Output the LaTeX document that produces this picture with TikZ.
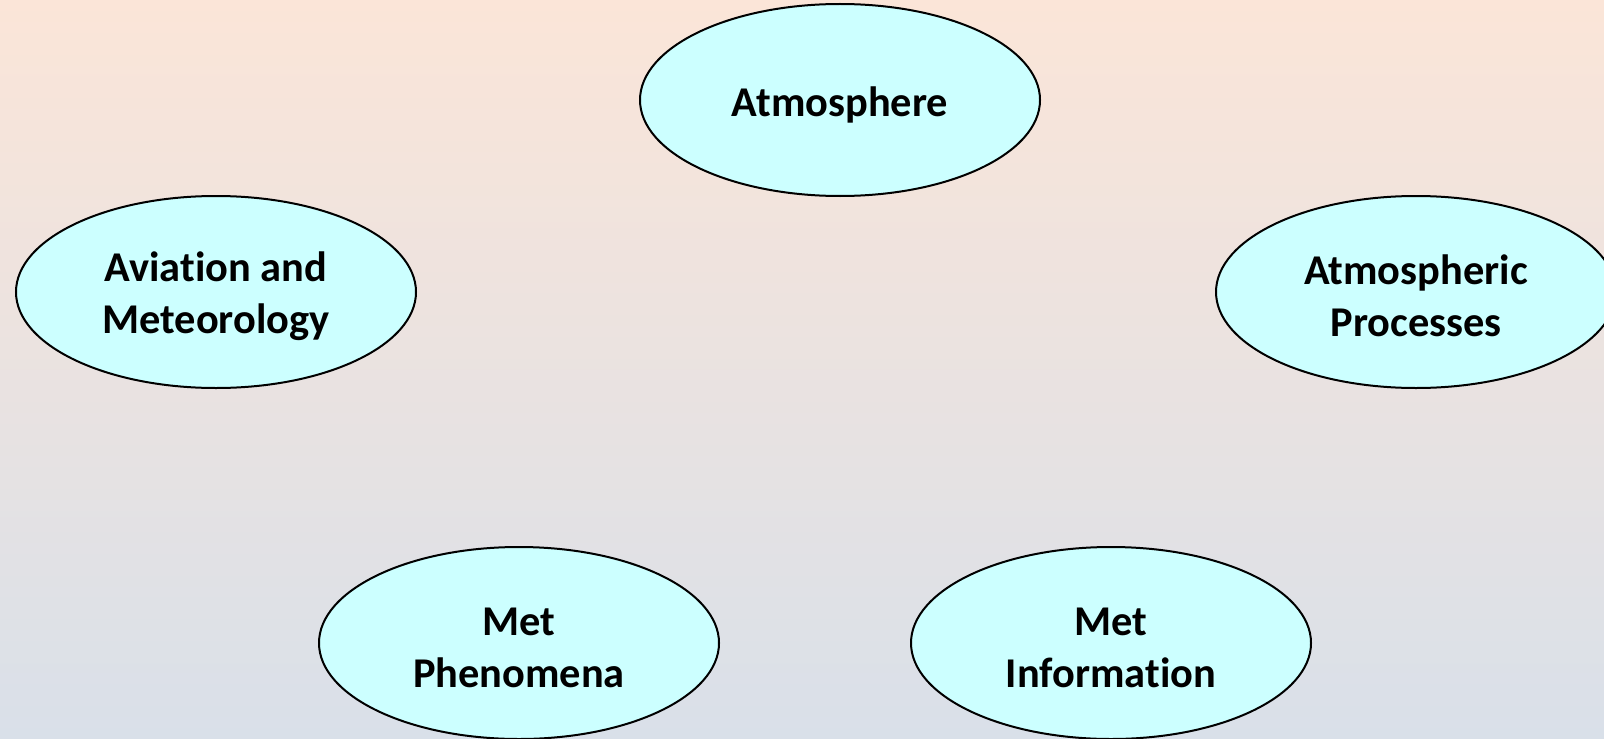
\documentclass[tikz,border=0pt]{standalone}
\usepackage{fontspec}
\setmainfont{Carlito}[Ligatures=NoCommon]
\usetikzlibrary{shapes.geometric}

\definecolor{bgtop}{HTML}{FBE5D8}
\definecolor{bgbottom}{HTML}{D9E0E9}
\definecolor{topicfill}{HTML}{CCFFFF}

\tikzset{
    topic/.style={ellipse, draw=black, line width=1pt, fill=topicfill,
        minimum width=200pt, minimum height=96pt, inner sep=0pt,
        text height=20pt,
        align=center, font=\fontsize{21.2}{26}\selectfont\bfseries},
    topictwo/.style={topic, text height=45pt}
}

\begin{document}
\begin{tikzpicture}[x=0.5pt,y=-0.5pt]

\useasboundingbox (0,0) rectangle (1604,738);
\clip (0,0) rectangle (1604,738);
\shade[top color=bgtop, bottom color=bgbottom] (0,0) rectangle (1604,738);

\node[topic] (atmos) at (840,100) {Atmosphere};
\node[topictwo] (aviation) at (216,292) {Aviation and\\Meteorology};
\node[topictwo] (process) at (1416,292) {Atmospheric\\Processes};
\node[topictwo] (phenom) at (519,643) {Met\\Phenomena};
\node[topictwo] (info) at (1111,643) {Met\\Information};

\end{tikzpicture}
\end{document}
